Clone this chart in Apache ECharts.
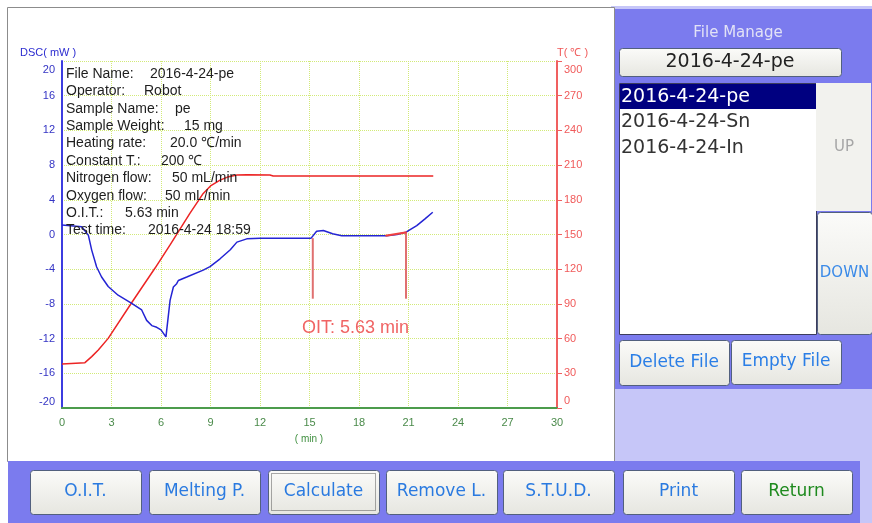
<!DOCTYPE html>
<html>
  <head>
    <meta charset="utf-8">
    <title>OIT curve</title>
    <style>
      html, body { margin: 0; padding: 0; background: #ffffff; }
      #chart { width: 872px; height: 523px; }
    </style>
  </head>
  <body>
    <div id="chart"></div>
    <script src="https://cdn.jsdelivr.net/npm/echarts@6/dist/echarts.min.js"></script>
    <script>
      // Data
      var dscTime = [0, 1.2, 1.6, 1.8, 2.1, 2.4, 2.8, 3.4, 4.2, 4.83, 5.13, 5.44, 5.74, 6.0, 6.3,
        6.55, 6.75, 6.95, 7.05, 7.56, 8.56, 8.97, 9.58, 10.2, 10.6, 11.2, 12, 15.1, 15.43, 15.84,
        16.4, 16.95, 19.7, 20.3, 20.85, 21.5, 22, 22.47];
      var dscMw = [1.1, 0.9, -0.1, -1.8, -3.75, -4.9, -6.0, -7.0, -7.9, -8.7, -9.9, -10.5, -10.7, -11.0, -11.8,
        -7.6, -6.05, -5.67, -5.3, -4.9, -4.1, -3.7, -2.8, -1.76, -0.88, -0.5, -0.42, -0.42, 0.38, 0.46,
        0.08, -0.15, -0.15, 0, 0.27, 1.03, 1.8, 2.56];
      var tempTime = [0, 1.39, 1.8, 2.2, 2.8, 4.22, 5.64, 6.55, 7.76, 8.56, 9.0, 9.58, 10.1, 10.6, 11.2, 12.6, 12.8, 22.5];
      var tempC = [38, 39.2, 44.4, 50.1, 60.2, 91, 121, 141, 168.5, 185.5, 192, 197, 200, 201.4, 201.7, 201.4, 200.5, 200.5];
      var oitStart = [[15.2, -0.42], [15.2, -7.4]];
      var oitEnd = [[20.85, 0.25], [20.85, -7.4]];
      var tangent = [[19.6, -0.15], [20.9, 0.27]];

      var infoLabels = ['File Name:', 'Operator:', 'Sample Name:', 'Sample Weight:', 'Heating rate:',
        'Constant T.:', 'Nitrogen flow:', 'Oxygen flow:', 'O.I.T.:', 'Test time:'];
      var infoValues = ['2016-4-24-pe', 'Robot', 'pe', '15 mg', '20.0 ℃/min', '200 ℃', '50 mL/min',
        '50 mL/min', '5.63 min', '2016-4-24 18:59'];
      var fileList = ['2016-4-24-pe', '2016-4-24-Sn', '2016-4-24-In'];
      var bottomButtons = ['O.I.T.', 'Melting P.', 'Calculate', 'Remove L.', 'S.T.U.D.', 'Print', 'Return'];

      var zip = function(xs, ys) {
        return xs.map(function(x, i) { return [x, ys[i]]; });
      };

      // layout
      var valueX = [150, 144, 175, 184, 170, 161, 172, 165, 125, 148];
      var buttonX = [30, 149, 268, 386, 503, 623, 741];
      var SANS = '"Liberation Sans", Arial, sans-serif';
      var UI = '"DejaVu Sans", Verdana, sans-serif';
      var gridColor = '#d2ea78';

      var btnFill = {
        type: 'linear', x: 0, y: 0, x2: 0, y2: 1,
        colorStops: [{ offset: 0, color: '#fbfbf9' }, { offset: 1, color: '#e6e6e0' }]
      };

      function button(x, y, w, h, label, color, size) {
        return {
          type: 'group', z: 5,
          children: [
            { type: 'rect', shape: { x: x + 0.5, y: y + 0.5, width: w, height: h, r: 3 },
              style: { fill: btnFill, stroke: '#52607e', lineWidth: 1 } },
            { type: 'text', x: x + w / 2, y: y + h / 2,
              style: { text: label, fill: color, font: (size || 17) + 'px ' + UI,
                       align: 'center', verticalAlign: 'middle' } }
          ]
        };
      }

      var graphic = [
        // backgrounds
        { type: 'rect', z: -10, shape: { x: 611, y: 6, width: 261, height: 517 }, style: { fill: '#c6c6f8' } },
        { type: 'rect', z: -10, shape: { x: 7.5, y: 7.5, width: 607, height: 454 },
          style: { fill: '#ffffff', stroke: '#8c8c8c', lineWidth: 1 } },
        { type: 'rect', z: -10, shape: { x: 615, y: 9, width: 257, height: 380 }, style: { fill: '#7b7bee' } },
        { type: 'rect', z: -10, shape: { x: 8, y: 461, width: 852, height: 62 }, style: { fill: '#7b7bee' } },

        // axis titles
        { type: 'text', z: 5, x: 20, y: 53,
          style: { text: 'DSC( mW )', fill: '#2c2cd0', font: '11px ' + SANS, verticalAlign: 'middle' } },
        { type: 'text', z: 5, x: 557, y: 53,
          style: { text: 'T( ℃ )', fill: '#f05a5a', font: '11px ' + SANS, verticalAlign: 'middle' } },
        { type: 'text', z: 5, x: 309, y: 439,
          style: { text: '( min )', fill: '#3f8f3f', font: '10px ' + SANS, align: 'center', verticalAlign: 'middle' } },
        { type: 'text', z: 5, x: 302, y: 328,
          style: { text: 'OIT: 5.63 min', fill: '#f06464', font: '18px ' + SANS, verticalAlign: 'middle' } },

        // file manage panel
        { type: 'text', z: 5, x: 738, y: 33,
          style: { text: 'File Manage', fill: '#e2e2f6', font: '15px ' + UI, align: 'center', verticalAlign: 'middle' } },
        button(619, 48, 222, 28, fileList[0], '#222222', 19),
        { type: 'rect', z: 4, shape: { x: 619.5, y: 83.5, width: 197, height: 251 },
          style: { fill: '#ffffff', stroke: '#3c3c5c', lineWidth: 1 } },
        { type: 'rect', z: 5, shape: { x: 620, y: 84, width: 196, height: 25 }, style: { fill: '#000080' } },
        { type: 'rect', z: 5, shape: { x: 816, y: 83, width: 55, height: 128 }, style: { fill: '#f2f2ee' } },
        { type: 'text', z: 6, x: 844, y: 147,
          style: { text: 'UP', fill: '#a6a6a6', font: '15px ' + UI, align: 'center', verticalAlign: 'middle' } },
        button(817, 212, 55, 122, 'DOWN', '#3a8ae8', 15),
        button(619, 340, 110, 45, 'Delete File', '#2a7ee6', 17),
        button(731, 340, 110, 44, 'Empty File', '#2a7ee6', 17)
      ];

      fileList.forEach(function(name, i) {
        graphic.push({ type: 'text', z: 6, x: 621, y: 97 + i * 25.5,
          style: { text: name, fill: i === 0 ? '#ffffff' : '#333333', font: '19px ' + UI, verticalAlign: 'middle' } });
      });

      infoLabels.forEach(function(lab, i) {
        var y = 74 + i * 17.4;
        graphic.push({ type: 'text', z: 5, x: 66, y: y,
          style: { text: lab, fill: '#1e1e1e', font: '14px ' + SANS, verticalAlign: 'middle' } });
        graphic.push({ type: 'text', z: 5, x: valueX[i], y: y,
          style: { text: infoValues[i], fill: '#1e1e1e', font: '14px ' + SANS, verticalAlign: 'middle' } });
      });

      bottomButtons.forEach(function(lab, i) {
        graphic.push(button(buttonX[i], 470, 111, 44, lab, lab === 'Return' ? '#1e8a1e' : '#2a7ae0', 17));
      });
      // focus rectangle on Calculate
      graphic.push({ type: 'rect', z: 6, shape: { x: buttonX[2] + 3.5, y: 473.5, width: 104, height: 37 },
        style: { fill: null, stroke: '#555555', lineWidth: 1, lineDash: [1, 1] } });

      var chart = echarts.init(document.getElementById('chart'));
      chart.setOption({
        animation: false,
        backgroundColor: '#ffffff',
        grid: { left: 62, right: 315, top: 61, bottom: 115 },
        xAxis: {
          type: 'value', min: 0, max: 30, interval: 3,
          axisLine: { onZero: false, lineStyle: { color: '#4c9c4c', width: 2 } },
          axisTick: { show: false },
          axisLabel: { color: '#4a8a4a', fontSize: 11, fontFamily: SANS, margin: 9 },
          splitLine: { lineStyle: { color: gridColor, type: 'dotted' } }
        },
        yAxis: [
          {
            type: 'value', position: 'left', min: -20, max: 20, interval: 4,
            axisLine: { show: true, onZero: false, lineStyle: { color: '#3c3ce0', width: 2 } },
            axisTick: { show: false },
            axisLabel: {
              color: '#3434c4', fontSize: 11, fontFamily: SANS, margin: 7,
              formatter: function(v) {
                if (v === 20) return '{t|' + v + '}';
                if (v === -20) return '{b|' + v + '}';
                return v;
              },
              rich: { t: { padding: [18, 0, 0, 0] }, b: { padding: [0, 0, 12, 0] } }
            },
            splitLine: { lineStyle: { color: gridColor, type: 'dotted' } }
          },
          {
            type: 'value', position: 'right', min: 0, max: 300, interval: 30,
            axisLine: { show: true, onZero: false, lineStyle: { color: '#f06060', width: 2 } },
            axisTick: { show: true, length: 5, lineStyle: { color: '#f06060' } },
            axisLabel: {
              color: '#f05a5a', fontSize: 11, fontFamily: SANS, margin: 7,
              formatter: function(v) {
                if (v === 300) return '{t|' + v + '}';
                if (v === 0) return '{b|' + v + '}';
                return v;
              },
              rich: { t: { padding: [18, 0, 0, 0] }, b: { padding: [0, 0, 14, 0] } }
            },
            splitLine: { show: false }
          }
        ],
        graphic: graphic,
        series: [
          { name: 'T', type: 'line', yAxisIndex: 1, data: zip(tempTime, tempC), symbol: 'none',
            lineStyle: { color: '#ec2424', width: 1.5 } },
          { name: 'DSC', type: 'line', yAxisIndex: 0, data: zip(dscTime, dscMw), symbol: 'none',
            lineStyle: { color: '#2424d4', width: 1.5 } },
          { name: 'start', type: 'line', yAxisIndex: 0, data: oitStart, symbol: 'none',
            lineStyle: { color: '#e07070', width: 2 } },
          { name: 'end', type: 'line', yAxisIndex: 0, data: oitEnd, symbol: 'none',
            lineStyle: { color: '#e07070', width: 2 } },
          { name: 'tangent', type: 'line', yAxisIndex: 0, data: tangent, symbol: 'none',
            lineStyle: { color: '#f04040', width: 2 } }
        ]
      });
    </script>
  </body>
</html>
